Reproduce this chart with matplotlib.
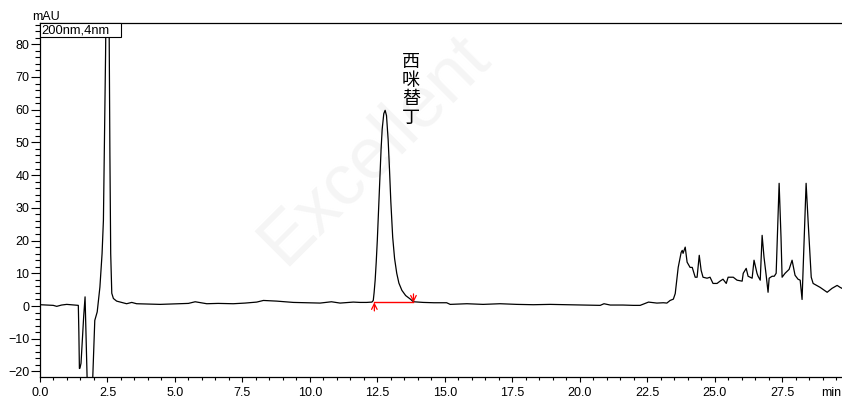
import matplotlib
matplotlib.use('Agg')
import matplotlib.pyplot as plt
from matplotlib.ticker import MultipleLocator, FixedLocator, FormatStrFormatter
from matplotlib.patches import Rectangle

# ---------------- data ----------------
time_min = [
    0.00, 0.25, 0.49, 0.62, 0.80, 0.99, 1.15, 1.36, 1.42,
    1.44, 1.46, 1.48, 1.52, 1.62, 1.67, 1.77, 1.92, 2.03, 2.12, 2.22, 2.30, 2.35,
    2.43, 2.50, 2.56, 2.59, 2.62, 2.66, 2.72, 2.84,
    3.21, 3.40, 3.58, 4.00, 4.45, 4.80, 5.19, 5.50, 5.75, 6.18, 6.60, 7.16, 7.60,
    8.03, 8.28, 8.77, 9.39, 9.90, 10.38, 10.80, 11.12, 11.61, 11.86, 12.10, 12.30,
    12.35, 12.38, 12.42, 12.46, 12.50, 12.55, 12.60, 12.64, 12.68, 12.74, 12.79,
    12.84, 12.90, 12.95, 13.00, 13.07, 13.14, 13.22, 13.30, 13.41, 13.55, 13.71, 13.84,
    14.20, 14.60, 15.07, 15.20, 15.82, 16.42, 17.05, 17.67, 18.28, 18.90, 19.52,
    20.14, 20.76, 20.90, 21.13, 21.60, 21.99, 22.24, 22.55, 22.86, 23.10, 23.23,
    23.35, 23.47, 23.54,
    23.65, 23.76, 23.80, 23.83, 23.91, 23.98, 24.09, 24.17, 24.28, 24.35, 24.43,
    24.50, 24.57, 24.72, 24.83, 24.94, 25.09, 25.20, 25.31, 25.43, 25.50, 25.69,
    25.83, 26.02, 26.06, 26.17, 26.24, 26.39, 26.46, 26.57, 26.61, 26.69, 26.76,
    26.83, 26.91, 26.98, 27.02, 27.13, 27.21, 27.28, 27.39, 27.46, 27.50, 27.61,
    27.76, 27.87, 27.98, 28.09, 28.17, 28.24, 28.39, 28.47, 28.58, 28.65, 28.91,
    29.17, 29.35, 29.54, 29.65, 29.72,
]
absorbance_mau = [
    0.4, 0.3, 0.2, -0.1, 0.3, 0.5, 0.4, 0.3, 0.2,
    -8.0, -19.1, -19.0, -17.5, -3.0, 2.8, -30.0, -30.0, -4.4, -1.8, 5.8, 16.0, 26.2,
    77.0, 140.0, 88.0, 46.7, 16.0, 3.9, 2.3, 1.5,
    0.7, 1.1, 0.7, 0.6, 0.5, 0.6, 0.7, 0.8, 1.3, 0.7, 0.8, 0.7, 0.9,
    1.2, 1.7, 1.5, 1.1, 1.0, 0.9, 1.3, 0.9, 1.2, 1.1, 1.1, 1.2,
    1.7, 4.0, 7.9, 13.5, 20.1, 30.0, 40.5, 48.0, 54.0, 58.8, 59.8,
    58.2, 51.0, 42.0, 32.0, 21.0, 14.5, 10.0, 7.0, 4.8, 3.2, 2.2, 1.3,
    1.1, 1.0, 1.0, 0.5, 0.7, 0.5, 0.7, 0.5, 0.4, 0.5, 0.4,
    0.3, 0.2, 0.7, 0.3, 0.3, 0.2, 0.2, 1.2, 0.9, 1.0, 0.9,
    1.7, 2.1, 3.8,
    11.8, 16.4, 17.0, 16.1, 18.0, 13.4, 11.8, 11.8, 8.8, 8.8, 15.5,
    10.9, 8.8, 8.5, 8.8, 6.9, 6.9, 7.6, 8.2, 6.9, 8.8, 8.8,
    7.9, 7.6, 10.0, 11.5, 9.1, 8.5, 14.0, 10.0, 9.1, 7.9, 21.6,
    14.9, 9.4, 4.2, 8.5, 9.1, 9.1, 10.0, 37.5, 21.0, 8.8, 10.0,
    11.2, 14.0, 9.4, 8.2, 7.9, 2.0, 37.5, 25.0, 8.8, 6.9, 5.7,
    4.2, 5.4, 6.3, 5.7, 5.4,
]

peak_name = "西咪替丁"
peak_label_time = 13.75
peak_label_top = 77.3
baseline_start = 12.39
baseline_end = 13.84
baseline_level = 1.1
channel_label = "200nm,4nm"
x_ticks = [0.0, 2.5, 5.0, 7.5, 10.0, 12.5, 15.0, 17.5, 20.0, 22.5, 25.0, 27.5]
y_ticks = [-20, -10, 0, 10, 20, 30, 40, 50, 60, 70, 80]
x_unit = "min"
y_unit = "mAU"
watermark = "Excellent"

# ---------------- figure ----------------
W, H = 842, 399
plt.rcParams['font.family'] = ['Liberation Sans', 'DejaVu Sans']
fig = plt.figure(figsize=(W / 100, H / 100), dpi=100)
left_px, right_px, top_px, bottom_px = 40, 842, 23.3, 376.7
ax = fig.add_axes([left_px / W, 1 - bottom_px / H,
                   (right_px - left_px) / W, (bottom_px - top_px) / H])
ax.set_facecolor('none')

# very faint watermark behind everything
fig.text(375 / W, 1 - 150 / H, watermark, rotation=45, fontsize=52,
         color='#f5f5f5', ha='center', va='center', zorder=-1)

ax.plot(time_min, absorbance_mau, color='black', lw=0.9, zorder=3)
ax.set_xlim(0, 29.72)
ax.set_ylim(-21.6, 86.4)

ax.spines['right'].set_visible(False)
for s in ['left', 'bottom', 'top']:
    ax.spines[s].set_linewidth(0.9)

ax.xaxis.set_major_locator(FixedLocator(x_ticks))
ax.xaxis.set_major_formatter(FormatStrFormatter('%.1f'))
ax.xaxis.set_minor_locator(MultipleLocator(0.5))
ax.yaxis.set_major_locator(FixedLocator(y_ticks))
ax.yaxis.set_minor_locator(MultipleLocator(2))
ax.tick_params(axis='x', which='major', direction='out', length=3.6, width=0.8,
               pad=3.5, labelsize=9)
ax.tick_params(axis='x', which='minor', direction='out', length=2.0, width=0.8)
ax.tick_params(axis='y', which='major', direction='out', length=6.5, width=0.8,
               pad=1.2, labelsize=9)
ax.tick_params(axis='y', which='minor', direction='out', length=3.6, width=0.8)

# unit labels
fig.text(46.5 / W, 1 - 17.5 / H, y_unit, fontsize=9, ha='center', va='center')
fig.text(841 / W, 1 - 392.5 / H, x_unit, fontsize=9, ha='right', va='center')

# channel box
bw, bh = 81 / (right_px - left_px), 14 / (bottom_px - top_px)
ax.add_patch(Rectangle((0, 1 - bh), bw, bh, transform=ax.transAxes,
                       fill=True, fc='white', ec='black', lw=0.8, zorder=4,
                       clip_on=False))
ax.text(0.002, 1 - bh / 2, channel_label, transform=ax.transAxes,
        fontsize=9.3, ha='left', va='center', zorder=5)

# peak label (vertical stacked characters)
ax.text(peak_label_time, peak_label_top, "\n".join(peak_name),
        family=['Noto Sans CJK SC', 'DejaVu Sans'], fontsize=13,
        ha='center', va='top', linespacing=1.05, zorder=5)

# integration baseline
ax.plot([baseline_start, baseline_end], [baseline_level, baseline_level],
        color='red', lw=1.0, zorder=4)
ax.annotate('', xy=(baseline_start, baseline_level),
            xytext=(baseline_start, baseline_level - 2.6),
            arrowprops=dict(arrowstyle='->', color='red', lw=0.9,
                            shrinkA=0, shrinkB=0, mutation_scale=10), zorder=4)
ax.annotate('', xy=(baseline_end, baseline_level),
            xytext=(baseline_end, baseline_level + 2.6),
            arrowprops=dict(arrowstyle='->', color='red', lw=0.9,
                            shrinkA=0, shrinkB=0, mutation_scale=10), zorder=4)

fig.savefig('out.png', dpi=100)
